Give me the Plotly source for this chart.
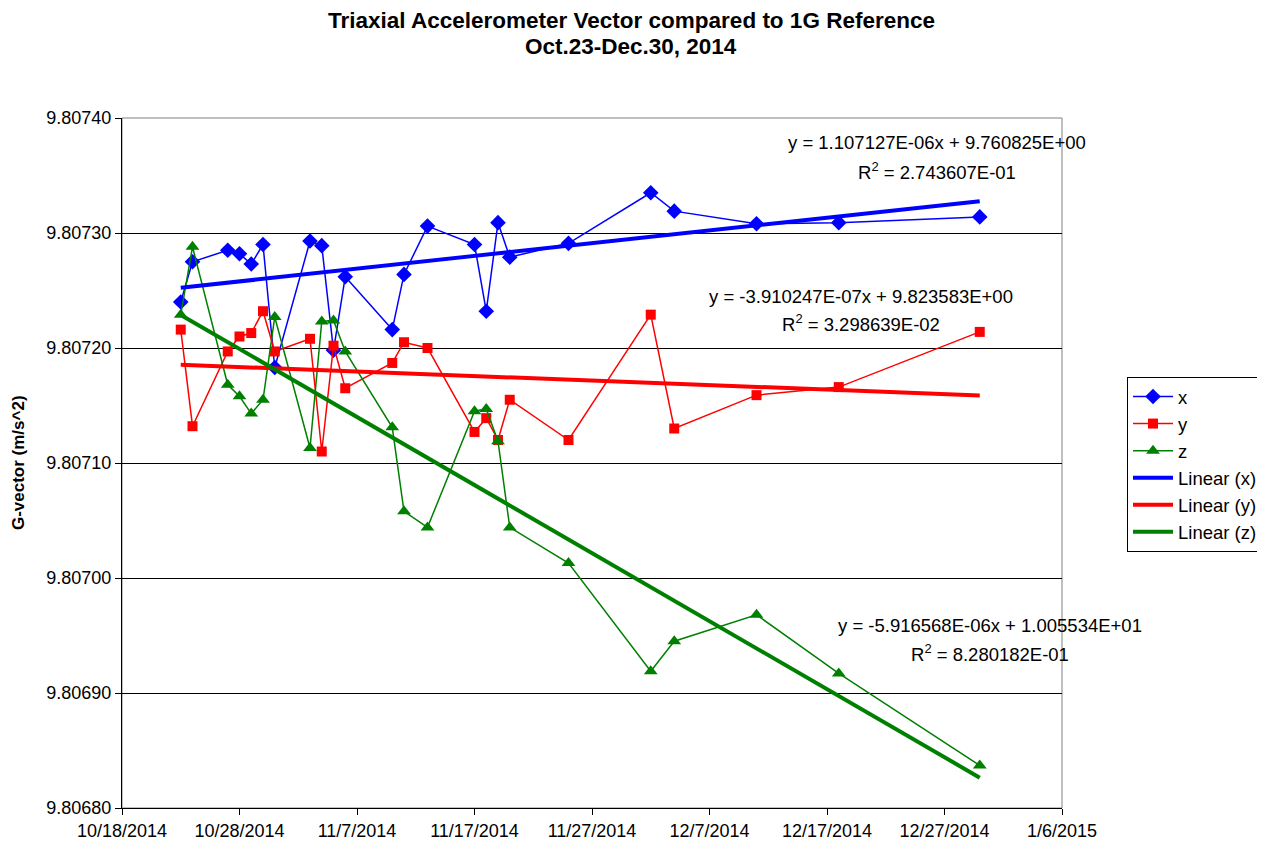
import plotly.graph_objects as go
import pandas as pd
import numpy as np

dates = ["2014-10-23", "2014-10-24", "2014-10-27", "2014-10-28", "2014-10-29", "2014-10-30",
         "2014-10-31", "2014-11-03", "2014-11-04", "2014-11-05", "2014-11-06", "2014-11-10",
         "2014-11-11", "2014-11-13", "2014-11-17", "2014-11-18", "2014-11-19", "2014-11-20",
         "2014-11-25", "2014-12-02", "2014-12-04", "2014-12-11", "2014-12-18", "2014-12-30"]

x_vals = [9.807240, 9.807275, 9.807285, 9.807282, 9.807273, 9.807290,
          9.807183, 9.807293, 9.807289, 9.807198, 9.807262, 9.807216,
          9.807264, 9.807306, 9.807290, 9.807232, 9.807309, 9.807279,
          9.807291, 9.807335, 9.807319, 9.807308, 9.807309, 9.807314]

y_vals = [9.807216, 9.807132, 9.807197, 9.807210, 9.807213, 9.807232,
          9.807197, 9.807208, 9.807110, 9.807202, 9.807165, 9.807187,
          9.807205, 9.807200, 9.807127, 9.807139, 9.807120, 9.807155,
          9.807120, 9.807229, 9.807130, 9.807159, 9.807166, 9.807214]

z_vals = [9.807229, 9.807288, 9.807168, 9.807158, 9.807143, 9.807155,
          9.807227, 9.807113, 9.807223, 9.807224, 9.807197, 9.807131,
          9.807058, 9.807044, 9.807145, 9.807147, 9.807119, 9.807044,
          9.807013, 9.806919, 9.806945, 9.806968, 9.806917, 9.806837]

# Trendline coefficients (slope per day on Excel date serial, intercept)
trend_x = (1.107127e-06, 9.760825)
trend_y = (-3.910247e-07, 9.823583)
trend_z = (-5.916568e-06, 10.05534)

eq_x = ["y = 1.107127E-06x + 9.760825E+00", "R<sup>2</sup> = 2.743607E-01"]
eq_y = ["y = -3.910247E-07x + 9.823583E+00", "R<sup>2</sup> = 3.298639E-02"]
eq_z = ["y = -5.916568E-06x + 1.005534E+01", "R<sup>2</sup> = 8.280182E-01"]

title_lines = ["Triaxial Accelerometer Vector compared to 1G Reference", "Oct.23-Dec.30, 2014"]
y_title = "G-vector (m/s^2)"

FONT = "Liberation Sans, Arial, sans-serif"
FS = 18.5

d = pd.to_datetime(dates)
serial = (d - pd.Timestamp("1899-12-30")).days.values.astype(float)
ends = [dates[0], dates[-1]]
ends_serial = np.array([serial[0], serial[-1]])

fig = go.Figure()
fig.add_trace(go.Scatter(x=dates, y=x_vals, name="x", mode="lines+markers",
                         line=dict(color="#0000FF", width=1.5),
                         marker=dict(symbol="diamond", size=12, color="#0000FF")))
fig.add_trace(go.Scatter(x=dates, y=y_vals, name="y", mode="lines+markers",
                         line=dict(color="#FF0000", width=1.5),
                         marker=dict(symbol="square", size=10, color="#FF0000")))
fig.add_trace(go.Scatter(x=dates, y=z_vals, name="z", mode="lines+markers",
                         line=dict(color="#008000", width=1.5),
                         marker=dict(symbol="triangle-up", size=12, color="#008000")))
for name, coef, col in [("Linear (x)", trend_x, "#0000FF"),
                        ("Linear (y)", trend_y, "#FF0000"),
                        ("Linear (z)", trend_z, "#008000")]:
    fig.add_trace(go.Scatter(x=ends, y=coef[0] * ends_serial + coef[1], name=name,
                             mode="lines", line=dict(color=col, width=4)))

# plot-area border (gray)
fig.add_shape(type="rect", xref="paper", yref="paper", x0=0, x1=1, y0=0, y1=1,
              line=dict(color="#808080", width=1), layer="below")

def add_eq(lines, xc, ys):
    for t, yy in zip(lines, ys):
        fig.add_annotation(text=t, xref="paper", yref="paper", x=xc, y=yy,
                           xanchor="center", yanchor="middle", showarrow=False,
                           font=dict(family=FONT, size=FS, color="black"))

add_eq(eq_x, 0.867, [0.9638, 0.923])
add_eq(eq_y, 0.786, [0.742, 0.7029])
add_eq(eq_z, 0.9234, [0.2638, 0.2246])

fig.add_annotation(text="<b>" + y_title + "</b>", xref="paper", yref="paper",
                   x=-0.1106, y=0.5, textangle=-90, showarrow=False,
                   xanchor="center", yanchor="middle",
                   font=dict(family=FONT, size=17, color="black"))

for t, yy in zip(title_lines, [1.142, 1.1029]):
    fig.add_annotation(text="<b>" + t + "</b>", xref="paper", yref="paper",
                       x=(631 - 122) / 940, y=yy, showarrow=False,
                       xanchor="center", yanchor="middle",
                       font=dict(family=FONT, size=22.5, color="black"))

# page body has an 8px margin: figure is sized/placed to compensate
fig.update_layout(
    width=1249, height=838,
    margin=dict(l=114, r=195, t=110, b=38),
    paper_bgcolor="white", plot_bgcolor="white",
    font=dict(family=FONT, size=FS, color="black"),
    legend=dict(xref="container", yref="container", x=1119 / 1249, y=1 - 369 / 838,
                xanchor="left", yanchor="top",
                bordercolor="black", borderwidth=1, bgcolor="white",
                font=dict(family=FONT, size=FS), itemwidth=40, tracegroupgap=0),
    showlegend=True,
)
fig.update_xaxes(type="date", range=["2014-10-18", "2015-01-06"],
                 tick0="2014-10-18", dtick=10 * 86400000, tickformat="%-m/%-d/%Y",
                 showgrid=False, showline=True, linecolor="black", linewidth=1,
                 ticks="outside", ticklen=6, tickcolor="black", zeroline=False,
                 automargin=False, tickfont=dict(family=FONT, size=18))
fig.update_yaxes(range=[9.8068, 9.8074], dtick=0.0001, tickformat=".5f",
                 showgrid=True, gridcolor="black", gridwidth=1,
                 showline=True, linecolor="black", linewidth=1,
                 ticks="outside", ticklen=6, tickcolor="black", zeroline=False,
                 automargin=False, tickfont=dict(family=FONT, size=18))

fig.write_html("out.html")
